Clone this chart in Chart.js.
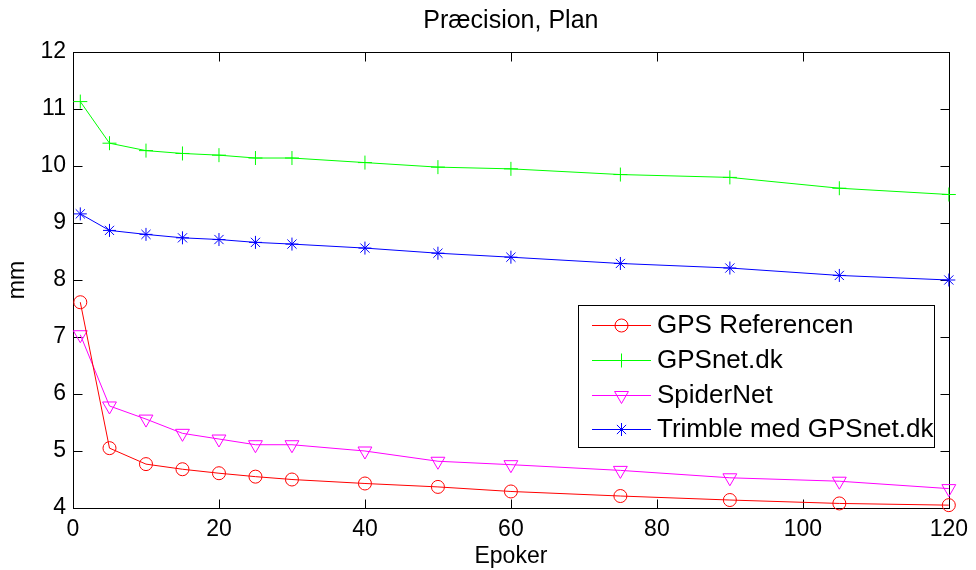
<!DOCTYPE html>
<html>
<head>
<meta charset="utf-8">
<title>Præcision, Plan</title>
<script src="https://cdn.jsdelivr.net/npm/chart.js@4.4.0/dist/chart.umd.min.js"></script>
<style>
  html, body { margin: 0; padding: 0; background: #fff; }
  #wrap { width: 976px; height: 570px; }
</style>
</head>
<body>
<div id="wrap"><canvas id="precisionChart" width="976" height="570"></canvas></div>
<script>
// data
const epoker = [1, 5, 10, 15, 20, 25, 30, 40, 50, 60, 75, 90, 105, 120];
const gpsReferencen = [7.61, 5.05, 4.77, 4.68, 4.61, 4.55, 4.50, 4.43, 4.37, 4.29, 4.21, 4.14, 4.08, 4.05];
const gpsnetDk = [11.13, 10.40, 10.27, 10.22, 10.19, 10.14, 10.14, 10.06, 9.98, 9.95, 9.85, 9.80, 9.61, 9.50];
const spiderNet = [7.04, 5.79, 5.56, 5.31, 5.21, 5.11, 5.11, 5.00, 4.82, 4.76, 4.66, 4.53, 4.47, 4.34];
const trimbleGpsnet = [9.16, 8.87, 8.80, 8.74, 8.71, 8.66, 8.63, 8.56, 8.47, 8.40, 8.29, 8.21, 8.08, 8.00];

const seriesNames = ['GPS Referencen', 'GPSnet.dk', 'SpiderNet', 'Trimble med GPSnet.dk'];
const xTicks = [0, 20, 40, 60, 80, 100, 120];
const yTicks = [4, 5, 6, 7, 8, 9, 10, 11, 12];

const FONT = "'Liberation Sans', Arial, Helvetica, sans-serif";

function toPoints(values) {
    return epoker.map(function(x, i) { return { x: x, y: values[i] }; });
}

function makeSet(label, values, color, style, radius, rotation) {
    return {
        label: label,
        data: toPoints(values),
        borderColor: color,
        backgroundColor: 'rgba(0,0,0,0)',
        borderWidth: 1,
        tension: 0,
        pointStyle: style,
        pointRadius: radius,
        pointRotation: rotation || 0,
        pointBorderColor: color,
        pointBorderWidth: 1,
        pointBackgroundColor: 'rgba(0,0,0,0)',
        clip: false
    };
}

// MATLAB style box with inward ticks on all four sides
const boxAxes = {
    id: 'boxAxes',
    beforeDatasetsDraw(chart) {
        const c = chart.ctx;
        const a = chart.chartArea;
        const xs = chart.scales.x, ys = chart.scales.y;
        const L = Math.round(a.left) + 0.5, R = Math.round(a.right) + 0.5;
        const T = Math.round(a.top) + 0.5, B = Math.round(a.bottom) + 0.5;
        const len = 9;
        c.save();
        c.strokeStyle = '#000';
        c.lineWidth = 1;
        c.beginPath();
        xTicks.forEach(function(v) {
            const px = Math.round(xs.getPixelForValue(v)) + 0.5;
            c.moveTo(px, B); c.lineTo(px, B - len);
            c.moveTo(px, T); c.lineTo(px, T + len);
        });
        yTicks.forEach(function(v) {
            const py = Math.round(ys.getPixelForValue(v)) + 0.5;
            c.moveTo(L, py); c.lineTo(L + len, py);
            c.moveTo(R, py); c.lineTo(R - len, py);
        });
        c.stroke();
        c.strokeRect(L, T, R - L, B - T);
        c.restore();
    }
};

// legend box inside the axes, lower right
const insideLegend = {
    id: 'insideLegend',
    afterDatasetsDraw(chart) {
        const c = chart.ctx;
        const box = { left: 578.5, top: 305.5, right: 934.5, bottom: 447.5 };
        const rowY = [325, 360, 395, 429];
        c.save();
        c.fillStyle = '#fff';
        c.fillRect(box.left, box.top, box.right - box.left, box.bottom - box.top);
        c.strokeStyle = '#000';
        c.lineWidth = 1;
        c.strokeRect(box.left, box.top, box.right - box.left, box.bottom - box.top);
        c.font = '26px ' + FONT;
        c.textBaseline = 'middle';
        chart.data.datasets.forEach(function(ds, i) {
            const y = rowY[i];
            c.strokeStyle = ds.borderColor;
            c.lineWidth = 1;
            c.beginPath();
            c.moveTo(592, y + 0.5);
            c.lineTo(651, y + 0.5);
            c.stroke();
            c.fillStyle = 'rgba(0,0,0,0)';
            Chart.helpers.drawPoint(c, {
                pointStyle: ds.pointStyle,
                radius: ds.pointRadius,
                rotation: ds.pointRotation,
                borderWidth: 1
            }, 621.5, y + 0.5);
            c.fillStyle = '#000';
            c.fillText(ds.label, 657, y + 1);
        });
        c.restore();
    }
};

const ctx = document.getElementById('precisionChart');

new Chart(ctx, {
    type: 'line',
    data: {
        datasets: [
            makeSet(seriesNames[0], gpsReferencen, '#ff0000', 'circle', 6.5),
            makeSet(seriesNames[1], gpsnetDk, '#00ff00', 'cross', 7),
            makeSet(seriesNames[2], spiderNet, '#ff00ff', 'triangle', 8, 180),
            makeSet(seriesNames[3], trimbleGpsnet, '#0000ff', 'star', 6.5)
        ]
    },
    options: {
        responsive: false,
        animation: false,
        events: [],
        layout: {
            padding: { left: 0, right: 22, top: 0, bottom: 0 }
        },
        plugins: {
            legend: { display: false },
            tooltip: { enabled: false },
            title: {
                display: true,
                fullSize: false,
                text: 'Præcision, Plan',
                color: '#000',
                font: { family: FONT, size: 25, weight: 'normal' },
                padding: { top: 6, bottom: 16 }
            }
        },
        scales: {
            x: {
                type: 'linear',
                min: 0,
                max: 120,
                afterBuildTicks: function(scale) {
                    scale.ticks = xTicks.map(function(v) { return { value: v }; });
                },
                afterFit: function(scale) { scale.height = 62; },
                grid: { display: false, drawTicks: false },
                border: { display: false },
                ticks: {
                    color: '#000',
                    padding: 8,
                    maxRotation: 0,
                    font: { family: FONT, size: 23 }
                },
                title: {
                    display: true,
                    text: 'Epoker',
                    color: '#000',
                    font: { family: FONT, size: 23 },
                    padding: { top: 0, bottom: 0 }
                }
            },
            y: {
                min: 4,
                max: 12,
                afterBuildTicks: function(scale) {
                    scale.ticks = yTicks.map(function(v) { return { value: v }; });
                },
                afterFit: function(scale) { scale.width = 73; },
                grid: { display: false, drawTicks: false },
                border: { display: false },
                ticks: {
                    color: '#000',
                    padding: 7,
                    font: { family: FONT, size: 23 }
                },
                title: {
                    display: true,
                    text: 'mm',
                    color: '#000',
                    font: { family: FONT, size: 23 },
                    padding: { top: 4, bottom: 4 }
                }
            }
        }
    },
    plugins: [boxAxes, insideLegend]
});
</script>
</body>
</html>
